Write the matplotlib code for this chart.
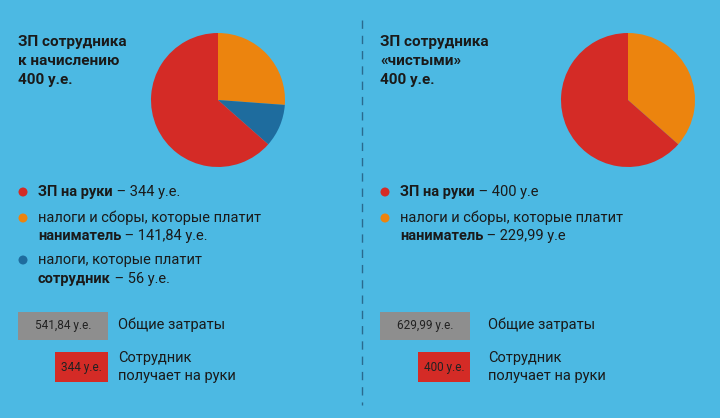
import matplotlib
matplotlib.use("Agg")
import matplotlib.pyplot as plt
from matplotlib.patches import Rectangle, Ellipse

left_labels = ["ЗП на руки", "налоги наниматель", "налоги сотрудник"]
left_values = [344, 141.84, 56]
right_labels = ["ЗП на руки", "налоги наниматель"]
right_values = [400, 229.99]

BG = "#4CB9E3"; RED = "#D42B26"; ORA = "#EC840E"; BLU = "#1E6C9E"; GRAY = "#8E8E8E"
W, H = 720, 418
fig = plt.figure(figsize=(7.2, 4.18), dpi=100, facecolor=BG)
plt.rcParams["font.family"] = "Roboto"
r = fig.canvas.get_renderer()

def px(x, y):
    return x / W, 1 - y / H

def pie(cx, cy, rad, vals, cols):
    ax = fig.add_axes([(cx - rad) / W, 1 - (cy + rad) / H, 2 * rad / W, 2 * rad / H])
    order = [1, 2, 0] if len(vals) == 3 else [1, 0]
    ax.pie([vals[i] for i in order], colors=[cols[i] for i in order], startangle=90,
           counterclock=False, wedgeprops=dict(linewidth=0))
    ax.set_xlim(-1, 1); ax.set_ylim(-1, 1)
    ax.set_aspect("equal"); ax.axis("off")

pie(218, 100, 67, left_values, [RED, ORA, BLU])
pie(628, 100, 67, right_values, [RED, ORA])

def txt(x, y, s, bold=False, size=10.5, color="#1a1a1a", **kw):
    return fig.text(*px(x, y), s, fontsize=size, fontweight="bold" if bold else "normal",
                    color=color, va="center", ha=kw.pop("ha", "left"), **kw)

def mixed(x, y, parts, size=10.5):
    for s, b in parts:
        t = txt(x, y, s, bold=b, size=size)
        bb = t.get_window_extent(renderer=r)
        x += bb.width

for i, line in enumerate(["ЗП сотрудника", "к начислению", "400 у.е."]):
    txt(18, 42 + i * 19, line, bold=True, size=11)
for i, line in enumerate(["ЗП сотрудника", "«чистыми»", "400 у.е."]):
    txt(380, 42 + i * 19, line, bold=True, size=11)

def dot(x, y, c):
    fig.patches.append(Ellipse(px(x, y), 9 / W, 9 / H, transform=fig.transFigure,
                               facecolor=c, edgecolor="none"))

dot(23, 192, RED); mixed(38, 192, [("ЗП на руки", True), (f" – {left_values[0]:g} у.е.", False)])
dot(23, 218, ORA); mixed(38, 218, [("налоги и сборы, которые платит", False)])
mixed(38, 236, [("наниматель", True), (" – 141,84 у.е.", False)])
dot(23, 260, BLU); mixed(38, 260, [("налоги, которые платит", False)])
mixed(38, 279, [("сотрудник", True), (f" – {left_values[2]:g} у.е.", False)])

dot(385, 192, RED); mixed(400, 192, [("ЗП на руки", True), (f" – {right_values[0]:g} у.е", False)])
dot(385, 218, ORA); mixed(400, 218, [("налоги и сборы, которые платит", False)])
mixed(400, 236, [("наниматель", True), (" – 229,99 у.е", False)])

def box(x0, y0, x1, y1, c, s):
    fig.patches.append(Rectangle(px(x0, y1), (x1 - x0) / W, (y1 - y0) / H,
                                 transform=fig.transFigure, facecolor=c, edgecolor="none"))
    txt((x0 + x1) / 2, (y0 + y1) / 2, s, size=8.5, color="#222222", ha="center")

box(18, 312, 108, 340, GRAY, "541,84 у.е.")
txt(118, 325, "Общие затраты")
box(55, 352, 108, 382, RED, "344 у.е.")
txt(118, 358, "Сотрудник"); txt(118, 376, "получает на руки")

box(380, 312, 470, 340, GRAY, "629,99 у.е.")
txt(488, 325, "Общие затраты")
box(418, 352, 470, 382, RED, "400 у.е.")
txt(488, 358, "Сотрудник"); txt(488, 376, "получает на руки")

fig.add_artist(plt.Line2D([362 / W] * 2, [1 - 20 / H, 1 - 405 / H], color="#2A6A8E",
                          linestyle=(0, (6, 5)), linewidth=1, transform=fig.transFigure))
fig.savefig("out.png", dpi=100, facecolor=BG)
